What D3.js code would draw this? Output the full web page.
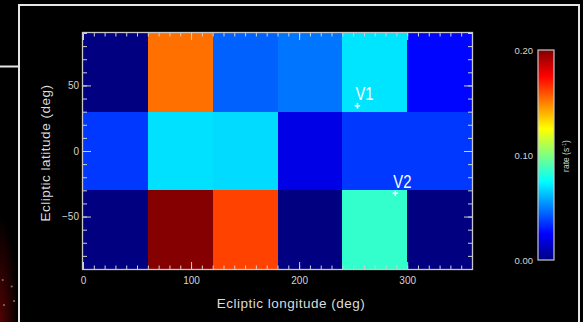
<!DOCTYPE html>
<html>
<head>
<meta charset="utf-8">
<script src="https://cdn.jsdelivr.net/npm/d3@7"></script>
<style>
  html, body { margin: 0; padding: 0; background: #000; }
  svg { display: block; font-family: "Liberation Sans", Arial, sans-serif; }
  .axis text { fill: #d4d4d4; font-size: 10px; }
  .axis line { stroke: #d0d0d0; }
</style>
</head>
<body>
<div id="chart"></div>
<script>
// sky map of count rate, 60 x 60 deg bins
const lonEdges = [0, 60, 120, 180, 240, 300, 360];
const latLow = [30, -30, -90];
const latHigh = [90, 30, -30];
const rateNorth = [0.000, 0.153, 0.044, 0.048, 0.070, 0.026];
const rateEquator = [0.036, 0.069, 0.068, 0.020, 0.036, 0.036];
const rateSouth = [0.000, 0.199, 0.162, 0.000, 0.085, 0.000];

const xTicks = [0, 100, 200, 300];
const yTicks = [-50, 0, 50];
const cbTicks = [0.0, 0.1, 0.2];

const probeNames = ['V1', 'V2'];
const probeLon = [254, 289];
const probeLat = [34.5, -32.3];

const W = 583, H = 322;
const svg = d3.select('#chart').append('svg').attr('width', W).attr('height', H);

// backdrop
const defs = svg.append('defs');
const glow = defs.append('radialGradient').attr('id', 'glow')
  .attr('cx', 0).attr('cy', 1).attr('r', 1);
glow.append('stop').attr('offset', '0%').attr('stop-color', '#520303');
glow.append('stop').attr('offset', '100%').attr('stop-color', '#000');
svg.append('rect').attr('width', W).attr('height', H).attr('fill', '#000');
svg.append('rect').attr('x', 0).attr('y', 215).attr('width', 18).attr('height', 107)
  .attr('fill', 'url(#glow)');
[[2.7, 280], [11.7, 286.5], [4, 305], [14, 301]].forEach(p => {
  svg.append('circle').attr('cx', p[0]).attr('cy', p[1]).attr('r', 1.1).attr('fill', '#8a6a6a');
});
const frame = 'M0,66.5H19M19,322V5H579V322';
svg.append('path').attr('d', frame).attr('fill', 'none')
  .attr('stroke', '#e6e6e6').attr('stroke-width', 2);

// scales
const x = d3.scaleLinear().domain([0, 360]).range([83, 472]);
const y = d3.scaleLinear().domain([-90, 90]).range([269, 33]);
const vmax = 0.2;
const jet = d3.scaleLinear()
  .domain([0, 0.125, 0.375, 0.625, 0.875, 1].map(t => t * vmax))
  .range(['#000080', '#0000ff', '#00ffff', '#ffff00', '#ff0000', '#800000'])
  .clamp(true);

const rows = [rateNorth, rateEquator, rateSouth];
const cells = [];
rows.forEach((r, j) => {
  r.forEach((v, i) => {
    cells.push({ lon0: lonEdges[i], lon1: lonEdges[i + 1], lat0: latLow[j], lat1: latHigh[j], v: v });
  });
});

svg.append('g').selectAll('rect').data(cells).enter().append('rect')
  .attr('x', d => x(d.lon0))
  .attr('y', d => y(d.lat1))
  .attr('width', d => x(d.lon1) - x(d.lon0))
  .attr('height', d => y(d.lat0) - y(d.lat1))
  .attr('fill', d => jet(d.v))
  .attr('shape-rendering', 'crispEdges');

// axes, ticks pointing inward
const minorX = d3.range(0, 361, 10);
const minorY = d3.range(-90, 91, 10);
const x0 = x.range()[0], x1 = x.range()[1], y0 = y.range()[1], y1 = y.range()[0];

const addAxis = (ax, tr) => {
  const g = svg.append('g').attr('class', 'axis').attr('transform', tr).call(ax);
  g.select('.domain').remove();
  return g;
};
addAxis(d3.axisBottom(x).tickValues(minorX).tickSize(-3.5).tickFormat(''), 'translate(0,' + y1 + ')');
addAxis(d3.axisBottom(x).tickValues(xTicks).tickSize(-7).tickPadding(8), 'translate(0,' + y1 + ')');
addAxis(d3.axisTop(x).tickValues(minorX).tickSize(-3.5).tickFormat(''), 'translate(0,' + y0 + ')');
addAxis(d3.axisTop(x).tickValues(xTicks).tickSize(-7).tickFormat(''), 'translate(0,' + y0 + ')');
addAxis(d3.axisLeft(y).tickValues(minorY).tickSize(-4).tickFormat(''), 'translate(' + x0 + ',0)');
addAxis(d3.axisLeft(y).tickValues(yTicks).tickSize(-8).tickPadding(4), 'translate(' + x0 + ',0)');
addAxis(d3.axisRight(y).tickValues(minorY).tickSize(-4).tickFormat(''), 'translate(' + x1 + ',0)');
addAxis(d3.axisRight(y).tickValues(yTicks).tickSize(-8).tickFormat(''), 'translate(' + x1 + ',0)');

svg.append('rect').attr('x', x0 - 0.5).attr('y', y0 - 0.5)
  .attr('width', x1 - x0 + 1).attr('height', y1 - y0 + 1)
  .attr('fill', 'none').attr('stroke', '#c8c8c8').attr('stroke-width', 1.3);

svg.append('text').attr('x', 291).attr('y', 308).attr('text-anchor', 'middle')
  .attr('fill', '#dcdcdc').attr('font-size', 13.5).style('letter-spacing', '0.5px')
  .text('Ecliptic longitude (deg)');
svg.append('text').attr('transform', 'translate(50,153) rotate(-90)')
  .attr('text-anchor', 'middle')
  .attr('fill', '#dcdcdc').attr('font-size', 13.5).style('letter-spacing', '0.5px')
  .text('Ecliptic latitude (deg)');

// spacecraft positions
const probes = probeNames.map((n, i) => ({ name: n, lon: probeLon[i], lat: probeLat[i] }));
const pg = svg.append('g').selectAll('g').data(probes).enter().append('g')
  .attr('transform', d => 'translate(' + x(d.lon) + ',' + y(d.lat) + ')');
pg.append('path').attr('d', 'M-2.7,0H2.7M0,-2.7V2.7')
  .attr('stroke', '#fff').attr('stroke-width', 1.5);
pg.append('text').attr('transform', 'translate(-2,-5.5) scale(0.78,1)')
  .attr('fill', '#fff').attr('font-size', 19)
  .text(d => d.name);

// colour bar
const cb = { x: 538, w: 16, top: 50, bottom: 260 };
const cy = d3.scaleLinear().domain([0, vmax]).range([cb.bottom, cb.top]);
const grad = defs.append('linearGradient').attr('id', 'cbgrad')
  .attr('x1', 0).attr('y1', 1).attr('x2', 0).attr('y2', 0);
grad.selectAll('stop').data(d3.range(0, 1.0001, 0.025)).enter().append('stop')
  .attr('offset', d => d * 100 + '%')
  .attr('stop-color', d => jet(d * vmax));
svg.append('rect').attr('x', cb.x).attr('y', cb.top).attr('width', cb.w)
  .attr('height', cb.bottom - cb.top).attr('fill', 'url(#cbgrad)')
  .attr('stroke', '#c8c8c8').attr('stroke-width', 1.2);
svg.append('g').selectAll('text').data(cbTicks).enter().append('text')
  .attr('x', cb.x - 5).attr('y', d => cy(d)).attr('dy', '0.45em')
  .attr('text-anchor', 'end').attr('fill', '#d4d4d4').attr('font-size', 9.5)
  .text(d3.format('.2f'));
const lab = svg.append('text').attr('transform', 'translate(569,156) rotate(-90)')
  .attr('text-anchor', 'middle').attr('fill', '#d4d4d4').attr('font-size', 8.5);
lab.append('tspan').text('rate (s');
lab.append('tspan').attr('font-size', 5.5).attr('dy', -3).text('-1');
lab.append('tspan').attr('dy', 3).text(')');
</script>
</body>
</html>
